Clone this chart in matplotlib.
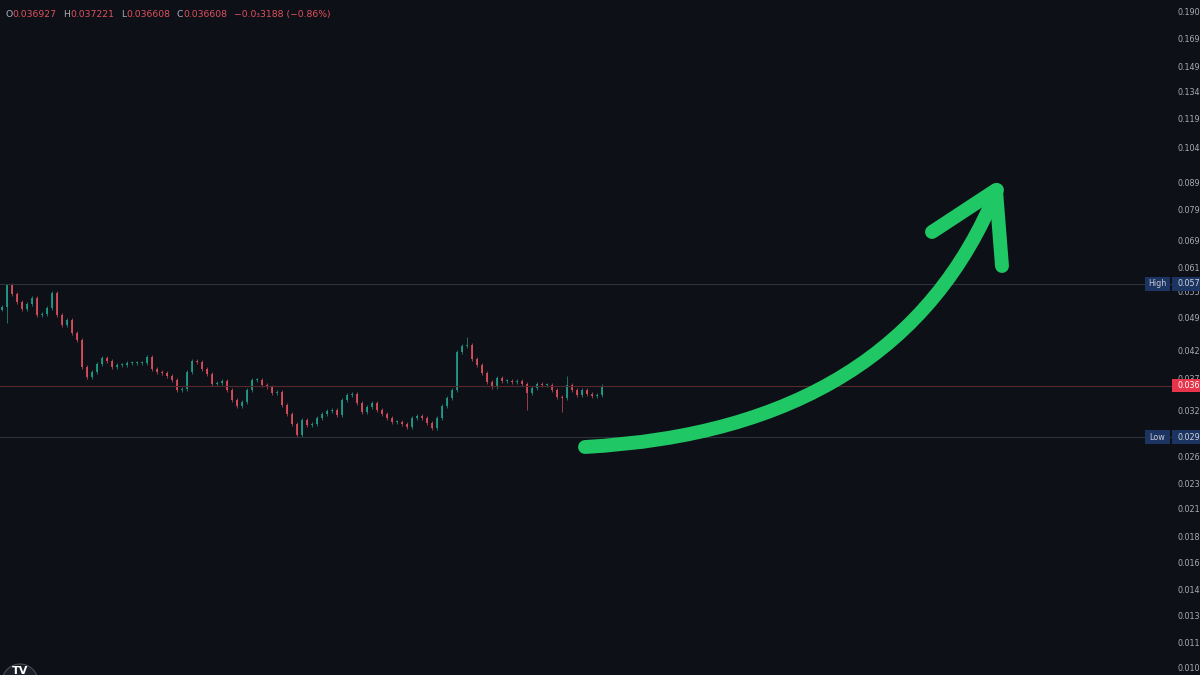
import numpy as np
import matplotlib as mpl
mpl.use('Agg')
import matplotlib.pyplot as plt
from matplotlib.path import Path
from matplotlib.patches import PathPatch, Circle, Rectangle
from matplotlib.ticker import NullLocator, NullFormatter
from matplotlib.offsetbox import TextArea, HPacker, AnchoredOffsetbox

# closes, one candle every step
closes = [0.05178, 0.05705, 0.05483, 0.05294, 0.05133, 0.05247, 0.05387, 0.04999, 0.05021, 0.05155,
          0.05507, 0.04999, 0.04784, 0.04890, 0.04618, 0.04478, 0.03976, 0.03804, 0.03889, 0.04029,
          0.04137, 0.04083, 0.03976, 0.04011, 0.04011, 0.04047, 0.04047, 0.04047, 0.04047, 0.04155,
          0.03941, 0.03889, 0.03872, 0.03821, 0.03754, 0.03593, 0.03609, 0.03889, 0.04083, 0.04065,
          0.03941, 0.03855, 0.03689, 0.03705, 0.03738, 0.03593, 0.03439, 0.03348, 0.03409, 0.03593,
          0.03754, 0.03754, 0.03673, 0.03641, 0.03546, 0.03562, 0.03363, 0.03233, 0.03093, 0.02947,
          0.03148, 0.03079, 0.03093, 0.03177, 0.03233, 0.03276, 0.03290, 0.03219, 0.03439, 0.03514,
          0.03530, 0.03394, 0.03262, 0.03334, 0.03394, 0.03290, 0.03233, 0.03177, 0.03120, 0.03120,
          0.03093, 0.03052, 0.03177, 0.03205, 0.03177, 0.03107, 0.03039, 0.03177, 0.03348, 0.03468,
          0.03593, 0.04247, 0.04361, 0.04381, 0.04119, 0.04011, 0.03872, 0.03721, 0.03641, 0.03788,
          0.03738, 0.03738, 0.03721, 0.03738, 0.03689, 0.03546, 0.03625, 0.03689, 0.03673, 0.03673,
          0.03593, 0.03484, 0.03468, 0.03673, 0.03593, 0.03514, 0.03593, 0.03530, 0.03499, 0.03514,
          0.03661]
first_open = 0.05120
wick_lows = {1: 0.0483, 105: 0.0329, 112: 0.0326, 59: 0.0292}
wick_highs = {1: 0.0573, 93: 0.0454, 113: 0.0382}

high_val, low_val, last_val = 0.0573, 0.0292, 0.03661
high_txt, low_txt, last_txt = '0.05730', '0.02920', '0.036608'

header_ohlc = [('O', '0.036927'), ('H', '0.037221'), ('L', '0.036608'), ('C', '0.036608')]
header_change = '\u22120.0\u20833188 (\u22120.86%)'

yticks = [0.1905, 0.1690, 0.1495, 0.1340, 0.1190, 0.1045, 0.0895, 0.0795, 0.0695, 0.0615,
          0.0555, 0.0495, 0.0428, 0.0378, 0.0328, 0.0268, 0.0238, 0.0213, 0.0188,
          0.0168, 0.0149, 0.0133, 0.0118, 0.0106]

BG = '#0e1017'
UP = '#22a08b'
DOWN = '#e0505e'
GREY = '#a9acb5'
GREEN = '#20c865'

fig = plt.figure(figsize=(12, 6.75), dpi=100, facecolor=BG)
ax = fig.add_axes([0, 0, 1172 / 1200, 1])
ax.set_facecolor(BG)
ax.set_yscale('log')
ax.set_ylim(0.010234, 0.2002)
ax.set_xlim(-0.4, 234)
for s in ax.spines.values():
    s.set_visible(False)

# candles
c = np.array(closes)
o = np.array([first_open] + closes[:-1])
hi = np.maximum(o, c) * 1.008
lo = np.minimum(o, c) * 0.992
for k, v in wick_highs.items():
    hi[k] = v
for k, v in wick_lows.items():
    lo[k] = v
x = np.arange(len(c))
cols = [UP if cc >= oo else DOWN for oo, cc in zip(o, c)]
ax.vlines(x, lo, hi, colors=cols, lw=0.6, alpha=0.8)
bot = np.minimum(o, c)
hgt = np.maximum(np.abs(c - o), bot * 0.003)
ax.bar(x, hgt, bottom=bot, width=0.45, color=cols, alpha=0.85, linewidth=0)

ax.axhline(high_val, color='#2e323c', lw=0.8)
ax.axhline(low_val, color='#2e323c', lw=0.8)
ax.axhline(last_val, color='#55282f', lw=0.8)

ax.yaxis.tick_right()
ax.set_yticks(yticks)
ax.yaxis.set_minor_locator(NullLocator())
ax.yaxis.set_minor_formatter(NullFormatter())
ax.set_yticklabels(['%.4f' % t for t in yticks], fontsize=5.8, color=GREY)
ax.tick_params(axis='y', length=0, pad=4.3)
ax.set_xticks([])

# price tags on the scale
def tag(price, value, face, tcol, label=None):
    yd = ax.transData.transform((0, price))[1] / 100.0
    fig.add_artist(Rectangle((11.72, yd - 0.068), 0.4, 0.136, transform=fig.dpi_scale_trans,
                             facecolor=face, edgecolor='none'))
    fig.text(1178 / 1200, yd * 100 / 675, value, fontsize=5.8, color=tcol, va='center', ha='left')
    if label:
        fig.add_artist(Rectangle((11.45, yd - 0.068), 0.25, 0.136, transform=fig.dpi_scale_trans,
                                 facecolor=face, edgecolor='none'))
        fig.text(1157.5 / 1200, yd * 100 / 675, label, fontsize=5.8, color='#c8cbd3',
                 va='center', ha='center')

tag(high_val, high_txt, '#1c3462', '#d0d3da', 'High')
tag(low_val, low_txt, '#1c3462', '#d0d3da', 'Low')
tag(last_val, last_txt, '#e8344a', 'white')

# header line
parts = []
for letter, val in header_ohlc:
    parts.append(HPacker(children=[TextArea(letter, textprops=dict(color=GREY, size=6.7)),
                                   TextArea(val, textprops=dict(color=DOWN, size=6.7))],
                         sep=0.3, pad=0))
parts.append(TextArea(header_change, textprops=dict(color=DOWN, size=6.7)))
hdr = AnchoredOffsetbox(loc='upper left', child=HPacker(children=parts, sep=4.6, pad=0),
                        pad=0, borderpad=0, frameon=False,
                        bbox_to_anchor=(5 / 1200, 1 - 10 / 675), bbox_transform=fig.transFigure)
ax.add_artist(hdr)

# big green arrow (pixel positions, y from top)
curve = [(585, 447), (900, 430), (997, 190)]
head = [(932, 232), (996, 190), (1002, 266)]
def px(pts):
    return [(a / 100.0, (675 - b) / 100.0) for a, b in pts]
fig.add_artist(PathPatch(Path(px(curve), [Path.MOVETO, Path.CURVE3, Path.CURVE3]), fill=False,
                         edgecolor=GREEN, lw=10, capstyle='round', joinstyle='round',
                         transform=fig.dpi_scale_trans))
fig.add_artist(PathPatch(Path(px(head), [Path.MOVETO, Path.LINETO, Path.LINETO]), fill=False,
                         edgecolor=GREEN, lw=10, capstyle='round', joinstyle='round',
                         transform=fig.dpi_scale_trans))

# logo bottom left
fig.add_artist(Circle((0.20, -0.07), 0.18, transform=fig.dpi_scale_trans,
                      facecolor='#1c1f27', edgecolor='#4a4e58', lw=0.8))
fig.text(20 / 1200, -1 / 675, 'TV', fontsize=8, fontweight='bold', color='white',
         ha='center', va='bottom')

plt.savefig('out.png', dpi=100, facecolor=BG)
